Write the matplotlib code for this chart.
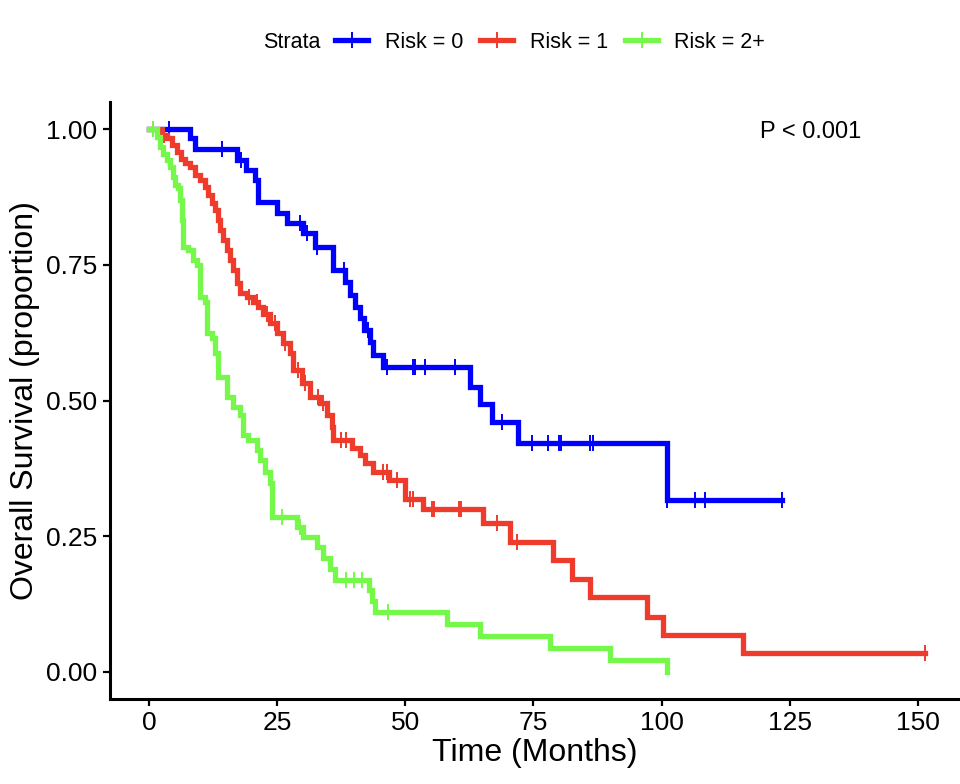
# Kaplan-Meier style survival curves by risk group
import numpy as np
import matplotlib
matplotlib.use("Agg")
import matplotlib.pyplot as plt
from matplotlib.lines import Line2D

plt.rcParams['font.family'] = ['Liberation Sans', 'DejaVu Sans']

# Risk = 0
blue_t = [0, 8.0, 9.0, 17.1, 19.0, 20.7, 21.3, 25.0, 26.9, 30.0, 32.4, 35.9, 38.2,
          39.2, 40.2, 41.2, 42.0, 43.1, 43.7, 45.6, 62.6, 64.6, 66.9, 72.0, 101.0]
blue_s = [1.0, 0.983, 0.963, 0.944, 0.925, 0.906, 0.866, 0.845, 0.827, 0.808, 0.783,
          0.740, 0.718, 0.694, 0.672, 0.652, 0.630, 0.608, 0.584, 0.562, 0.525,
          0.493, 0.461, 0.422, 0.317]
blue_end = 123.5
blue_cens = [4.0, 14.2, 18.0, 29.5, 30.8, 32.8, 38.0, 42.7, 46.4, 51.5, 51.9, 53.8,
             59.7, 68.9, 74.7, 77.8, 80.0, 80.4, 86.0, 86.6, 101.0, 106.5, 108.4, 123.5]

# Risk = 1
red_t = [0, 2.5, 3.5, 4.5, 5.5, 6.3, 7.0, 8.0, 9.0, 10.0, 10.9, 11.5, 12.3, 12.9,
         13.5, 13.9, 14.4, 15.2, 15.8, 16.4, 17.2, 17.7, 19.1, 20.3, 21.3, 22.2,
         23.6, 25.0, 26.1, 27.5, 28.1, 29.8, 31.4, 33.4, 34.7, 35.7, 35.9, 39.6,
         41.2, 42.1, 43.7, 46.8, 49.9, 53.5, 65.1, 70.4, 78.8, 82.5, 86.0, 97.1,
         100.3, 115.9]
red_s = [1.0, 0.989, 0.983, 0.970, 0.958, 0.945, 0.938, 0.930, 0.915, 0.906, 0.894,
         0.878, 0.864, 0.851, 0.832, 0.814, 0.796, 0.777, 0.759, 0.740, 0.716,
         0.698, 0.691, 0.681, 0.672, 0.660, 0.643, 0.624, 0.606, 0.587, 0.556,
         0.532, 0.507, 0.495, 0.473, 0.451, 0.427, 0.412, 0.400, 0.385, 0.369,
         0.354, 0.319, 0.300, 0.274, 0.240, 0.206, 0.171, 0.138, 0.101, 0.068, 0.035]
red_end = 151.4
red_cens = [0.8, 3.0, 19.5, 21.0, 23.0, 24.5, 26.5, 29.0, 30.5, 33.0, 34.0, 37.5,
            38.5, 45.7, 46.4, 48.4, 51.0, 51.5, 55.2, 55.6, 60.5, 60.9, 67.9, 71.8, 151.4]

# Risk = 2+
green_t = [0, 1.5, 2.1, 2.8, 3.5, 4.1, 4.7, 5.1, 5.7, 6.0, 6.4, 6.7, 7.6, 8.6, 9.3,
           10.0, 10.9, 11.3, 12.3, 12.9, 13.5, 15.2, 16.4, 17.7, 18.3, 19.3, 21.1,
           21.7, 22.6, 23.6, 24.0, 28.9, 30.0, 32.8, 34.0, 35.3, 36.3, 43.0, 43.5,
           44.0, 58.1, 64.6, 78.2, 90.0, 101.0]
green_s = [1.0, 0.985, 0.967, 0.955, 0.943, 0.930, 0.912, 0.897, 0.891, 0.869, 0.832,
           0.783, 0.777, 0.759, 0.750, 0.690, 0.681, 0.624, 0.615, 0.587, 0.543,
           0.506, 0.488, 0.473, 0.436, 0.427, 0.409, 0.390, 0.368, 0.348, 0.286,
           0.267, 0.249, 0.230, 0.210, 0.190, 0.170, 0.150, 0.130, 0.110, 0.089,
           0.066, 0.044, 0.022, 0.0]
green_end = 101.0
green_cens = [0.8, 26.0, 29.5, 38.5, 40.0, 41.5, 46.6]

labels = ["Risk = 0", "Risk = 1", "Risk = 2+"]
colors = ["#0000FF", "#EE3B2C", "#76F84A"]

fig = plt.figure(figsize=(9.6, 7.84), dpi=100)
ax = fig.add_axes([110 / 960, 1 - 699 / 784, 850 / 960, 597 / 784])

curves = [(blue_t, blue_s, blue_end, blue_cens),
          (red_t, red_s, red_end, red_cens),
          (green_t, green_s, green_end, green_cens)]

for (t, s, end, cens), col in zip(curves, colors):
    tt = np.append(t, end)
    ss = np.append(s, s[-1])
    ax.step(tt, ss, where='post', color=col, lw=3.8, solid_joinstyle='miter')
    # censor marks sit on the curve
    idx = np.searchsorted(t, cens, side='right') - 1
    cs = np.array(s)[idx]
    ax.plot(cens, cs, ls='none', marker='|', ms=11, mew=1.4, color=col)

ax.set_xlim(-7.6, 158.2)
ax.set_ylim(-0.05, 1.05)
ax.set_xticks([0, 25, 50, 75, 100, 125, 150])
ax.set_yticks([0, 0.25, 0.5, 0.75, 1.0])
ax.set_yticklabels(["0.00", "0.25", "0.50", "0.75", "1.00"])

for sp in ['top', 'right']:
    ax.spines[sp].set_visible(False)
for sp in ['left', 'bottom']:
    ax.spines[sp].set_linewidth(2.2)
ax.tick_params(axis='both', length=5, width=1.6, labelsize=19, pad=4,
               colors='black')

ax.set_xlabel("Time (Months)", fontsize=23)
ax.set_ylabel("Overall Survival (proportion)", fontsize=23)
ax.xaxis.set_label_coords(0.5, -0.065)
ax.yaxis.set_label_coords(-0.082, 0.5)

ax.text(119.2, 0.994, "P < 0.001", fontsize=17, ha='left', va='center')

# legend on top, title inline
fig.text(263 / 960, 1 - 42 / 784, "Strata", fontsize=15.5, ha='left', va='center')
handles = [Line2D([], [], color=c, lw=3.8, marker='|', ms=11, mew=1.4) for c in colors]
fig.legend(handles, labels, loc='center left', ncol=3, frameon=False,
           bbox_to_anchor=(335 / 960, 1 - 42 / 784), fontsize=15.5,
           handlelength=1.55, handletextpad=0.75, columnspacing=0.8,
           borderpad=0, borderaxespad=0)

fig.savefig("out.png", dpi=100)
